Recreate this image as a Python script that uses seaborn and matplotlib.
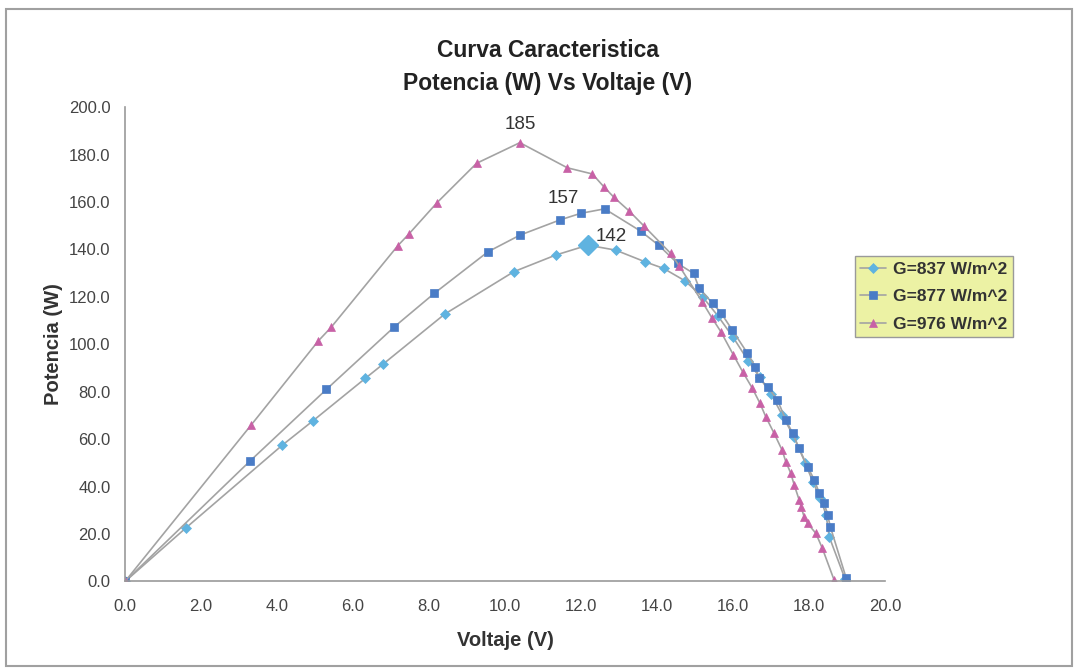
import matplotlib
matplotlib.use('Agg')
import matplotlib.pyplot as plt
import seaborn as sns
import numpy as np
import pandas as pd
from matplotlib.patches import Rectangle

# series
v_837 = [0.0, 1.61, 4.14, 4.95, 6.32, 6.78, 8.41, 10.23, 11.33, 12.18, 12.91, 13.68, 14.17, 14.73,
         15.20, 15.60, 16.00, 16.40, 16.70, 17.00, 17.30, 17.60, 17.90, 18.10, 18.30, 18.45, 18.53, 18.95]
p_837 = [0.0, 22.7, 57.5, 67.8, 85.6, 91.5, 112.7, 130.6, 137.6, 141.8, 139.7, 134.8, 132.0, 126.8,
         120.0, 112.0, 103.0, 93.0, 86.0, 79.0, 70.0, 61.0, 50.0, 42.0, 35.0, 28.0, 18.9, 1.0]

v_877 = [0.0, 3.29, 5.30, 7.09, 8.14, 9.55, 10.39, 11.44, 11.99, 12.62, 13.57, 14.04, 14.54, 14.96,
         15.11, 15.46, 15.68, 15.98, 16.38, 16.59, 16.69, 16.91, 17.17, 17.39, 17.57, 17.74, 17.96,
         18.14, 18.27, 18.40, 18.49, 18.56, 18.98]
p_877 = [0.0, 50.8, 81.0, 107.4, 121.5, 139.0, 146.0, 152.4, 155.2, 157.1, 147.7, 141.8, 134.1, 129.9,
         123.6, 117.3, 113.3, 106.0, 96.2, 90.5, 85.6, 82.1, 76.5, 68.0, 62.5, 56.1, 48.4,
         42.8, 37.2, 33.0, 28.0, 23.1, 1.3]

v_976 = [0.0, 3.32, 5.09, 5.42, 7.18, 7.47, 8.21, 9.25, 10.39, 11.64, 12.30, 12.60, 12.87, 13.26,
         13.66, 14.36, 14.58, 15.19, 15.45, 15.68, 16.01, 16.25, 16.51, 16.71, 16.86, 17.08, 17.29,
         17.39, 17.52, 17.61, 17.74, 17.79, 17.87, 17.96, 18.18, 18.35, 18.66]
p_976 = [0.0, 66.0, 101.5, 107.1, 141.6, 146.5, 159.7, 176.3, 185.0, 174.4, 171.8, 166.4, 161.9, 156.3,
         149.8, 138.3, 133.1, 117.9, 111.0, 105.3, 95.5, 88.5, 81.4, 75.1, 69.5, 62.5, 55.4,
         50.5, 45.6, 40.7, 34.4, 31.5, 27.3, 24.5, 20.3, 14.0, 0.6]

labels = ['G=837 W/m^2', 'G=877 W/m^2', 'G=976 W/m^2']
x_ticks = [0, 2, 4, 6, 8, 10, 12, 14, 16, 18, 20]
y_ticks = [0, 20, 40, 60, 80, 100, 120, 140, 160, 180, 200]

sns.set_style('white')
plt.rcParams['font.family'] = ['Liberation Sans', 'DejaVu Sans']

fig = plt.figure(figsize=(10.78, 6.71), dpi=100)
ax = fig.add_axes([0.116, 0.1334, 0.705, 0.707])

line_col = '#a3a3a3'
series = [
    (v_837, p_837, labels[0], 'D', '#5fb3e0', 5.5),
    (v_877, p_877, labels[1], 's', '#4a7cc6', 6),
    (v_976, p_976, labels[2], '^', '#c861a6', 6),
]
for v, p, lab, mk, col, ms in series:
    df = pd.DataFrame({'V': v, 'P': p})
    sns.lineplot(data=df, x='V', y='P', sort=False, estimator=None, ax=ax, color=line_col,
                 linewidth=1.2, marker=mk, markersize=ms, markerfacecolor=col,
                 markeredgecolor=col, markeredgewidth=0.5, label=lab)

# highlighted max point of the lowest curve
i = int(np.argmax(p_837))
ax.plot(v_837[i], p_837[i], marker='D', markersize=10, color='#5fb3e0', zorder=5)

# peak labels
peaks = [(v_976, p_976, (0, 13)), (v_877, p_877, (-30, 7.5)), (v_837, p_837, (16.5, 6))]
for v, p, off in peaks:
    k = int(np.argmax(p))
    ax.annotate(f'{p[k]:.0f}', xy=(v[k], p[k]), xytext=off, textcoords='offset points',
                ha='center', va='center', fontsize=13.5, color='#333333')

ax.set_xlim(0, 20)
ax.set_ylim(0, 200)
ax.set_xticks(x_ticks)
ax.set_yticks(y_ticks)
ax.set_xticklabels([f'{t:.1f}' for t in x_ticks])
ax.set_yticklabels([f'{t:.1f}' for t in y_ticks])
ax.tick_params(axis='both', labelsize=12, colors='#8a8a8a', labelcolor='#444444',
               direction='inout', length=5, width=1)
ax.tick_params(axis='x', pad=10)
ax.tick_params(axis='y', pad=8)
for s in ['top', 'right']:
    ax.spines[s].set_visible(False)
for s in ['left', 'bottom']:
    ax.spines[s].set_color('#9a9a9a')
    ax.spines[s].set_linewidth(1.2)

ax.set_xlabel('Voltaje (V)', fontsize=14.5, fontweight='bold', color='#333333', labelpad=12)
ax.set_ylabel('Potencia (W)', fontsize=14.5, fontweight='bold', color='#333333', labelpad=4)

fig.text(0.508, 0.925, 'Curva Caracteristica', ha='center', va='center',
         fontsize=16.5, fontweight='bold', color='#222222')
fig.text(0.508, 0.876, 'Potencia (W) Vs Voltaje (V)', ha='center', va='center',
         fontsize=16.5, fontweight='bold', color='#222222')

handles, labs = ax.get_legend_handles_labels()
ax.get_legend().remove()
leg = fig.legend(handles, labs, loc='upper left', bbox_to_anchor=(0.793, 0.618),
                 frameon=True, fancybox=False, prop={'weight': 'bold', 'size': 12.5},
                 handlelength=1.5, handletextpad=0.4, borderpad=0.3, labelspacing=0.72,
                 borderaxespad=0)
leg.get_frame().set_facecolor('#ecf2a4')
leg.get_frame().set_edgecolor('#9a9a9a')
leg.get_frame().set_alpha(1)
for t in leg.get_texts():
    t.set_color('#333333')

# chart outer border
fig.patches.append(Rectangle((0.006, 0.008), 0.988, 0.978, transform=fig.transFigure,
                             fill=False, edgecolor='#a0a0a0', linewidth=1.5))

fig.savefig('out.png', dpi=100)
